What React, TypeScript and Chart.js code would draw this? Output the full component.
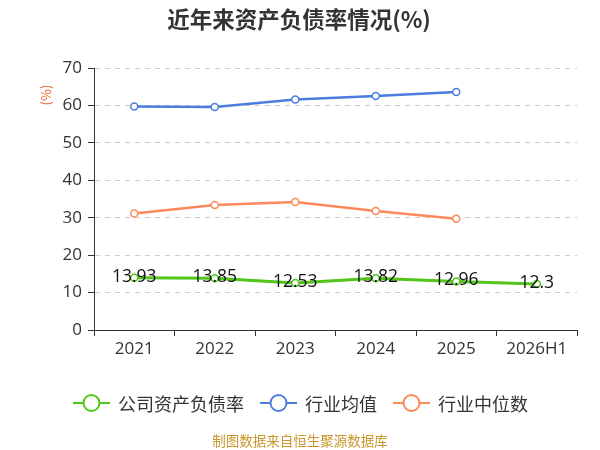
import React, { useRef, useEffect } from 'react';
import { Chart, registerables } from 'chart.js';

Chart.register(...registerables);

// Datos
const years = ['2021', '2022', '2023', '2024', '2025', '2026H1'];
const companyRatio = [13.93, 13.85, 12.53, 13.82, 12.96, 12.3];
const industryMean = [59.7, 59.6, 61.6, 62.5, 63.6, null];
const industryMedian = [31.1, 33.4, 34.2, 31.8, 29.7, null];
const seriesNames = ['公司资产负债率', '行业均值', '行业中位数'];
const seriesColors = ['#52c41a', '#4a7ddf', '#fb8a5b'];

const FONT = '"Noto Sans CJK SC", "Open Sans", sans-serif';
const NUM_FONT = '"Open Sans", "Noto Sans CJK SC", sans-serif';

const App: React.FC = () => {
  const chartRef = useRef<HTMLCanvasElement>(null);
  const chartInstanceRef = useRef<Chart | null>(null);

  useEffect(() => {
    document.body.style.margin = '0';
    if (!chartRef.current) return;
    const ctx = chartRef.current.getContext('2d');
    if (!ctx) return;
    if (chartInstanceRef.current) chartInstanceRef.current.destroy();

    const makeSet = (label: string, data: (number | null)[], color: string, width: number) => ({
      label,
      data,
      borderColor: color,
      backgroundColor: '#ffffff',
      borderWidth: width,
      pointRadius: 3.5,
      pointBorderWidth: 1.5,
      pointBackgroundColor: '#ffffff',
      pointBorderColor: color,
      tension: 0,
      spanGaps: false,
    });

    chartInstanceRef.current = new Chart(ctx, {
      type: 'line',
      data: {
        labels: years,
        datasets: [
          makeSet(seriesNames[0], companyRatio, seriesColors[0], 3),
          makeSet(seriesNames[1], industryMean, seriesColors[1], 2.5),
          makeSet(seriesNames[2], industryMedian, seriesColors[2], 2.5),
        ],
      },
      options: {
        responsive: false,
        animation: false,
        layout: { padding: { top: 68, right: 23, bottom: 70, left: 0 } },
        plugins: {
          legend: { display: false },
          title: { display: false },
          tooltip: { enabled: false },
        },
        scales: {
          x: {
            offset: true,
            afterFit: (scale: any) => { scale.height = 50; },
            grid: {
              offset: true,
              drawOnChartArea: false,
              drawTicks: true,
              tickLength: 6,
              tickColor: '#333333',
            },
            border: { display: true, color: '#333333', width: 1 },
            ticks: {
              color: '#333333',
              font: { size: 17, family: NUM_FONT },
              padding: 3,
            },
          },
          y: {
            min: 0,
            max: 70,
            afterFit: (scale: any) => { scale.width = 94; },
            grid: {
              color: '#cccccc',
              lineWidth: 1,
              drawTicks: true,
              tickLength: 6,
              tickColor: '#333333',
              tickBorderDash: [],
            },
            border: { display: true, color: '#333333', width: 1, dash: [5, 5] },
            ticks: {
              stepSize: 10,
              color: '#333333',
              font: { size: 17, family: NUM_FONT },
              padding: 6,
            },
          },
        },
      },
      plugins: [
        {
          id: 'extras',
          beforeDatasetsDraw(chart: any) {
            // eje Y sólido encima de la rejilla
            const { ctx: c, chartArea } = chart;
            c.save();
            c.strokeStyle = '#333333';
            c.lineWidth = 1;
            c.beginPath();
            c.moveTo(chartArea.left + 0.5, chartArea.top);
            c.lineTo(chartArea.left + 0.5, chartArea.bottom);
            c.stroke();
            c.restore();
          },
          afterDatasetsDraw(chart: any) {
            const c = chart.ctx;
            c.save();
            // Etiquetas de datos
            const meta = chart.getDatasetMeta(0);
            c.font = `17.5px ${NUM_FONT}`;
            c.fillStyle = '#111111';
            c.textAlign = 'center';
            c.textBaseline = 'middle';
            meta.data.forEach((pt: any, i: number) => {
              c.fillText(String(companyRatio[i]), pt.x, pt.y - 1);
            });

            // Título
            c.font = `bold 22.5px ${FONT}`;
            c.fillStyle = '#333333';
            c.fillText('近年来资产负债率情况(%)', 299, 19);

            // Unidad del eje Y
            c.save();
            c.translate(46, 95);
            c.rotate(-Math.PI / 2);
            c.font = `13px ${FONT}`;
            c.fillStyle = '#e8632a';
            c.fillText('(%)', 0, 0);
            c.restore();

            // Leyenda
            const legendX = [73, 260, 393];
            const ly = 403;
            c.font = `18px ${FONT}`;
            c.textAlign = 'left';
            seriesNames.forEach((name, i) => {
              const x0 = legendX[i];
              c.strokeStyle = seriesColors[i];
              c.lineWidth = 2;
              c.beginPath();
              c.moveTo(x0, ly);
              c.lineTo(x0 + 37, ly);
              c.stroke();
              c.beginPath();
              c.arc(x0 + 18.5, ly, 8, 0, Math.PI * 2);
              c.fillStyle = '#ffffff';
              c.fill();
              c.stroke();
              c.fillStyle = '#333333';
              c.fillText(name, x0 + 45, ly + 1);
            });

            // Pie de página
            c.textAlign = 'center';
            c.font = `13.5px ${FONT}`;
            c.fillStyle = '#c8962a';
            c.fillText('制图数据来自恒生聚源数据库', 300, 441);
            c.restore();
          },
        },
      ],
    });

    return () => {
      if (chartInstanceRef.current) {
        chartInstanceRef.current.destroy();
        chartInstanceRef.current = null;
      }
    };
  }, []);

  return (
    <div style={{ position: 'absolute', left: 0, top: 0, width: 600, height: 450, background: '#ffffff' }}>
      <canvas ref={chartRef} width={600} height={450} />
    </div>
  );
};

export default App;
